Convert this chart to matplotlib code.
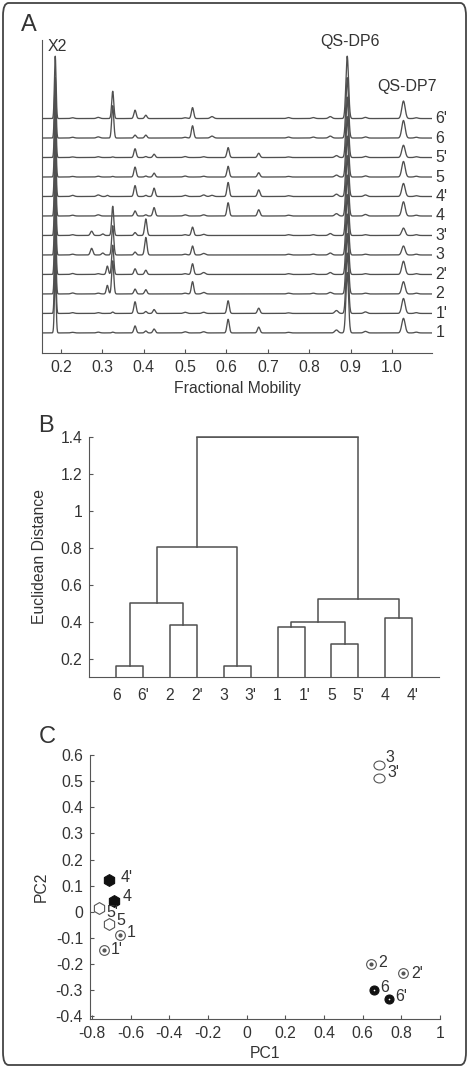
import numpy as np
import matplotlib
matplotlib.use("Agg")
import matplotlib.pyplot as plt
from matplotlib.patches import FancyBboxPatch
from matplotlib.path import Path
from matplotlib.transforms import Affine2D

plt.rcParams['font.family'] = ['Liberation Sans', 'DejaVu Sans']
plt.rcParams['font.size'] = 11.3
plt.rcParams['text.color'] = '#333333'
plt.rcParams['axes.labelcolor'] = '#333333'
plt.rcParams['xtick.color'] = '#555555'
plt.rcParams['ytick.color'] = '#555555'
plt.rcParams['xtick.labelcolor'] = '#333333'
plt.rcParams['ytick.labelcolor'] = '#333333'

# ---- panel A: electropherograms (peak tables) ----
trace_labels = ["1", "1'", "2", "2'", "3", "3'", "4", "4'", "5", "5'", "6", "6'"]
peak_pos = [0.186, 0.228, 0.274, 0.290, 0.301, 0.312, 0.325, 0.379, 0.405, 0.425,
            0.500, 0.518, 0.545, 0.565, 0.604, 0.678, 0.750, 0.810, 0.851, 0.866,
            0.892, 0.936, 1.028, 1.059]
peak_sigma = [0.0020, 0.004, 0.003, 0.004, 0.003, 0.0025, 0.0025, 0.0028, 0.0028, 0.0028,
              0.004, 0.0028, 0.004, 0.004, 0.0028, 0.003, 0.004, 0.004, 0.004, 0.004,
              0.0032, 0.004, 0.0040, 0.004]
peak_heights = [
    [3.1, 0.03, 0, 0.04, 0, 0, 0.04, 0.36, 0.10, 0.20, 0.06, 0, 0.06, 0, 0.70, 0.30, 0.03, 0, 0, 0.15, 3.1, 0.08, 0.75, 0.04],
    [3.1, 0.04, 0, 0.04, 0, 0, 0.07, 0.60, 0.10, 0.20, 0.06, 0, 0.06, 0, 0.65, 0.27, 0.03, 0, 0, 0.15, 3.1, 0.08, 0.77, 0.04],
    [3.1, 0.05, 0, 0.04, 0, 0.44, 1.70, 0.25, 0.22, 0, 0.04, 0.63, 0.08, 0, 0, 0, 0.04, 0.04, 0.08, 0, 3.1, 0.04, 0.63, 0.04],
    [3.1, 0.05, 0, 0.04, 0, 0.43, 1.50, 0.29, 0.22, 0, 0.04, 0.55, 0.10, 0, 0, 0, 0.04, 0.04, 0.10, 0, 3.1, 0.04, 0.68, 0.04],
    [3.1, 0.04, 0.34, 0, 0.10, 0, 1.50, 0.15, 0.90, 0, 0.04, 0.46, 0.08, 0, 0, 0, 0.04, 0.04, 0.10, 0, 3.1, 0.04, 0.46, 0.04],
    [3.1, 0.04, 0.22, 0, 0.08, 0, 1.50, 0.15, 0.85, 0, 0.04, 0.43, 0.06, 0, 0, 0, 0.04, 0.04, 0.10, 0, 3.1, 0.04, 0.38, 0.04],
    [3.1, 0.04, 0, 0.06, 0, 0, 0, 0.26, 0.06, 0.43, 0.06, 0, 0.06, 0, 0.68, 0.32, 0.04, 0, 0, 0.12, 3.1, 0.08, 0.73, 0.04],
    [3.1, 0.06, 0, 0.08, 0, 0.06, 0, 0.56, 0.06, 0.43, 0.06, 0, 0.08, 0.06, 0.72, 0.34, 0.04, 0, 0, 0.12, 3.1, 0.08, 0.67, 0.04],
    [3.1, 0.03, 0, 0.04, 0, 0, 0.03, 0.51, 0.05, 0.20, 0.05, 0, 0.04, 0, 0.55, 0.22, 0.03, 0, 0, 0.10, 3.1, 0.06, 0.80, 0.04],
    [3.1, 0.03, 0, 0.04, 0, 0, 0.03, 0.45, 0.05, 0.17, 0.05, 0, 0.04, 0, 0.51, 0.22, 0.03, 0, 0, 0.10, 3.1, 0.06, 0.63, 0.04],
    [3.1, 0.04, 0, 0.06, 0, 0, 1.66, 0.15, 0.15, 0, 0.04, 0.63, 0, 0.10, 0, 0, 0.05, 0.05, 0.10, 0, 3.1, 0.06, 0.90, 0.04],
    [3.2, 0.04, 0, 0.06, 0, 0, 1.40, 0.43, 0.17, 0, 0.04, 0.56, 0, 0.10, 0, 0, 0.05, 0.05, 0.10, 0, 3.2, 0.06, 0.90, 0.04],
]
mobility_ticks = [0.2, 0.3, 0.4, 0.5, 0.6, 0.7, 0.8, 0.9, 1.0]

# ---- panel B: dendrogram ----
leaf_order = ["6", "6'", "2", "2'", "3", "3'", "1", "1'", "5", "5'", "4", "4'"]
link_left = [0, 4, 8, 6, 2, 15, 10, 12, 17, 19, 21]
link_right = [1, 5, 9, 7, 3, 14, 11, 16, 18, 13, 20]
link_height = [0.16, 0.16, 0.281, 0.373, 0.384, 0.397, 0.417, 0.501, 0.523, 0.801, 1.40]
dist_ticks = [0.2, 0.4, 0.6, 0.8, 1.0, 1.2, 1.4]
dist_ticklabels = ["0.2", "0.4", "0.6", "0.8", "1", "1.2", "1.4"]

# ---- panel C: PCA scores ----
pc_labels = ["1", "1'", "2", "2'", "3", "3'", "4", "4'", "5", "5'", "6", "6'"]
pc1 = [-0.654, -0.740, 0.643, 0.809, 0.683, 0.683, -0.686, -0.710, -0.710, -0.761, 0.659, 0.738]
pc2 = [-0.090, -0.145, -0.200, -0.235, 0.563, 0.512, 0.040, 0.120, -0.045, 0.015, -0.300, -0.333]
pc1_ticks = [-0.8, -0.6, -0.4, -0.2, 0, 0.2, 0.4, 0.6, 0.8, 1]
pc2_ticks = [-0.4, -0.3, -0.2, -0.1, 0, 0.1, 0.2, 0.3, 0.4, 0.5, 0.6]

W, H = 469, 1068
fig = plt.figure(figsize=(W / 100, H / 100), dpi=100)


def ax_px(l, t, r, b):
    return fig.add_axes([l / W, 1 - b / H, (r - l) / W, (b - t) / H])


line_c = '#505050'
spine_c = '#555555'

# outer frame
fig.patches.append(FancyBboxPatch((3 / W, 3 / H), 1 - 6 / W, 1 - 6 / H,
                                  boxstyle="round,pad=0,rounding_size=0.012",
                                  transform=fig.transFigure, fill=False,
                                  ec='#444444', lw=1.3))

# ---------------- A ----------------
axA = ax_px(42, 40, 432, 353)
x = np.linspace(0.154, 1.097, 4000)
pos = np.array(peak_pos)
sig = np.array(peak_sigma)
for i, (lab, hts) in enumerate(zip(trace_labels, peak_heights)):
    h = np.array(hts)
    y = i + (h[None, :] * np.exp(-0.5 * ((x[:, None] - pos[None, :]) / sig[None, :]) ** 2)).sum(axis=1)
    axA.plot(x, y, color=line_c, lw=0.95, zorder=20 - i)
    axA.text(1.106, i, lab, ha='left', va='center', fontsize=11.5, clip_on=False)
axA.set_xlim(0.154, 1.097)
axA.set_ylim(-1.03, 15.03)
axA.set_xticks(mobility_ticks)
axA.set_xticklabels(["%.1f" % t for t in mobility_ticks])
axA.set_yticks([])
axA.tick_params(axis='x', direction='in', length=3, pad=5)
for s in ['top', 'right']:
    axA.spines[s].set_visible(False)
for s in ['left', 'bottom']:
    axA.spines[s].set_color(spine_c)
axA.set_xlabel("Fractional Mobility", labelpad=4)
axA.text(0.19, 14.7, "X2", ha='center', va='center', fontsize=11.5, clip_on=False)
axA.text(0.899, 14.94, "QS-DP6", ha='center', va='center', fontsize=11.5, clip_on=False)
axA.text(1.037, 12.63, "QS-DP7", ha='center', va='center', fontsize=11.5, clip_on=False)
fig.text(29 / W, 1 - 25 / H, "A", fontsize=17, ha='center', va='center')

# ---------------- B ----------------
axB = ax_px(89.3, 436.7, 439, 677)
xs = list(np.arange(1, len(leaf_order) + 1, dtype=float))
hs = [0.0] * len(leaf_order)
for l, r, h in zip(link_left, link_right, link_height):
    axB.plot([xs[l], xs[l], xs[r], xs[r]], [hs[l], h, h, hs[r]],
             color=line_c, lw=1.1, clip_on=True)
    xs.append((xs[l] + xs[r]) / 2)
    hs.append(h)
axB.plot([xs[-1] - 3, xs[-1] + 3], [1.4, 1.4], color=line_c, lw=1.1, clip_on=False)
axB.set_xlim(0, 13)
axB.set_ylim(0.1, 1.4)
axB.set_xticks(range(1, len(leaf_order) + 1))
axB.set_xticklabels(leaf_order)
axB.set_yticks(dist_ticks)
axB.set_yticklabels(dist_ticklabels)
axB.tick_params(axis='x', length=0, pad=8)
axB.tick_params(axis='y', direction='in', length=3, pad=5)
for s in ['top', 'right']:
    axB.spines[s].set_visible(False)
for s in ['left', 'bottom']:
    axB.spines[s].set_color(spine_c)
axB.set_ylabel("Euclidean Distance")
axB.yaxis.set_label_coords(-0.12, 0.5)
fig.text(46 / W, 1 - 425.5 / H, "B", fontsize=17, ha='center', va='center')

# ---------------- C ----------------
axC = ax_px(90, 755, 440, 1019)
ellipse = Path.unit_circle().transformed(Affine2D().scale(1.25, 1.0))
grey = '#555555'
styles = {
    "1": dict(marker='o', ms=7, mfc='white', mec=grey, mew=0.8),
    "2": dict(marker='o', ms=7, mfc='white', mec=grey, mew=0.8),
    "3": dict(marker=ellipse, ms=8, mfc='white', mec=grey, mew=0.8),
    "4": dict(marker='h', ms=8.5, mfc='#111111', mec='#111111', mew=0.8),
    "5": dict(marker='h', ms=8.5, mfc='white', mec=grey, mew=0.8),
    "6": dict(marker='o', ms=6.5, mfc='#111111', mec='#111111', mew=0.8),
}
offsets = {"1": (4.5, 2), "1'": (5, 0), "2": (5, 1.5), "2'": (6, 0),
           "3": (5, 5.5), "3'": (6.5, 4), "4": (6.5, 3.5), "4'": (8, 2),
           "5": (5, 2), "5'": (5, -3), "6": (4.5, 2), "6'": (4.5, 2)}
for lab, a, b in zip(pc_labels, pc1, pc2):
    key = lab.rstrip("'")
    axC.plot(a, b, ls='none', zorder=3, **styles[key])
    if key in ("1", "2"):
        axC.plot(a, b, ls='none', marker='o', ms=2, mfc=grey, mec=grey, zorder=4)
    if key == "6":
        axC.plot(a, b, ls='none', marker='o', ms=1.2, mfc='white', mec='white', mew=0, zorder=4)
    axC.annotate(lab, (a, b), xytext=offsets[lab], textcoords='offset points',
                 ha='left', va='center', fontsize=11.5)
axC.set_xlim(-0.81, 1.0)
axC.set_ylim(-0.41, 0.6)
axC.set_xticks(pc1_ticks)
axC.set_xticklabels(["%g" % t for t in pc1_ticks])
axC.set_yticks(pc2_ticks)
axC.set_yticklabels(["%g" % t for t in pc2_ticks])
axC.tick_params(direction='in', length=3, pad=5)
for s in ['top', 'right']:
    axC.spines[s].set_visible(False)
for s in ['left', 'bottom']:
    axC.spines[s].set_color(spine_c)
axC.set_xlabel("PC1", labelpad=4)
axC.set_ylabel("PC2")
axC.yaxis.set_label_coords(-0.117, 0.5)
fig.text(47 / W, 1 - 737 / H, "C", fontsize=17, ha='center', va='center')

fig.savefig("out.png", dpi=100)
